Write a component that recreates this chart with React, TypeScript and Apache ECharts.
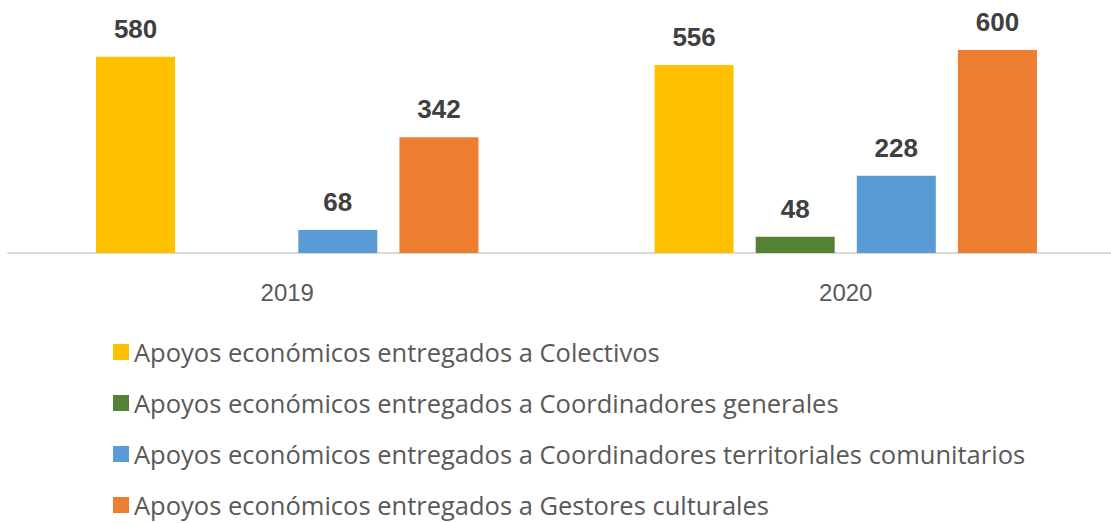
import React, { useEffect, useRef } from "react";
import * as echarts from "echarts";

const categories = ["2019", "2020"];
const seriesNames = [
  "Apoyos económicos entregados a Colectivos",
  "Apoyos económicos entregados a Coordinadores generales",
  "Apoyos económicos entregados a Coordinadores territoriales comunitarios",
  "Apoyos económicos entregados a Gestores culturales",
];
const colectivos = [580, 556];
const coordGenerales = [null, 48];
const coordTerritoriales = [68, 228];
const gestores = [342, 600];
const colors = ["#FFC000", "#548235", "#5B9BD5", "#ED7D31"];

const FONT = "'Liberation Sans', Arial, sans-serif";
const LEGEND_FONT = "'Open Sans', 'Liberation Sans', sans-serif";

export default function App() {
  const ref = useRef<HTMLDivElement>(null);
  useEffect(() => {
    if (!ref.current) return;
    const chart = echarts.init(ref.current, undefined, { renderer: "svg" });
    const allData = [colectivos, coordGenerales, coordTerritoriales, gestores];
    chart.setOption({
      animation: false,
      backgroundColor: "#ffffff",
      textStyle: { fontFamily: FONT },
      grid: { left: 8, right: 0, top: 50, bottom: 270, containLabel: false },
      legend: {
        orient: "vertical",
        left: 113,
        top: 339,
        height: 184,
        padding: 0,
        itemWidth: 16,
        itemHeight: 16,
        itemGap: 25,
        icon: "rect",
        data: seriesNames,
        textStyle: { fontFamily: LEGEND_FONT, fontSize: 25.5, lineHeight: 26, color: "#595959" },
      },
      xAxis: {
        type: "category",
        data: categories,
        axisLine: { lineStyle: { color: "#d9d9d9", width: 2 } },
        axisTick: { show: false },
        axisLabel: { fontFamily: FONT, fontSize: 24, color: "#595959", margin: 27 },
      },
      yAxis: {
        type: "value",
        min: 0,
        max: 600,
        show: false,
        splitLine: { show: false },
      },
      series: seriesNames.map((name, i) => ({
        name,
        type: "bar",
        data: allData[i],
        barWidth: 79,
        barGap: "28%",
        itemStyle: { color: colors[i] },
        label: {
          show: true,
          position: "top",
          distance: 15,
          fontFamily: FONT,
          fontSize: 26,
          fontWeight: "bold",
          color: "#404040",
        },
      })),
    });
    return () => chart.dispose();
  }, []);
  return (
    <div style={{ position: "fixed", left: 0, top: 0, width: 1111, height: 523, overflow: "hidden" }}>
      <div ref={ref} style={{ width: 1125, height: 523 }} />
    </div>
  );
}
